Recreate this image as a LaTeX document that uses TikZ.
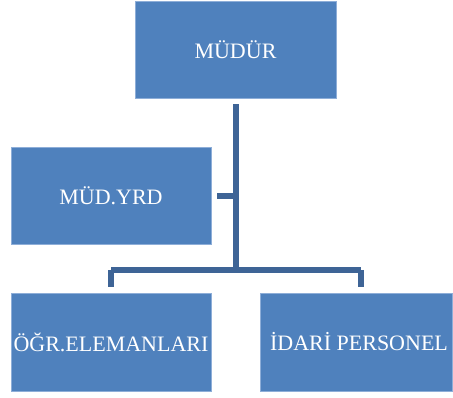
\documentclass[tikz,border=0pt]{standalone}
\usepackage{fontspec}
\setmainfont{Liberation Serif}
\usetikzlibrary{calc}
\definecolor{boxblue}{HTML}{4F81BD}
\definecolor{boxedge}{HTML}{8EAED8}
\definecolor{linkblue}{HTML}{3E6496}
\tikzset{
  unit/.style={draw=boxedge, line width=0.8pt, fill=boxblue, text=white,
    font=\fontsize{22}{26}\selectfont, inner sep=0pt},
  link/.style={draw=linkblue, line width=5.5pt, line join=round}
}
\begin{document}
\begin{tikzpicture}[x=1pt,y=-1pt]
    \useasboundingbox (0,0) rectangle (453,398);

    \node [unit, minimum width=201pt, minimum height=97pt] (mudur) at (235.5,49.5) {MÜDÜR};
    \node [unit, minimum width=200pt, minimum height=97pt] (yrd) at (111,195.5) {MÜD.YRD};
    \node [unit, minimum width=200pt, minimum height=98pt] (ogr) at (111,342) {ÖĞR.ELEMANLARI};
    \node [unit, minimum width=192pt, minimum height=98pt] (idari) at (356,342) {\hspace{6pt}İDARİ PERSONEL};

    \coordinate (C0) at ($(mudur.south)+(0.5,6)$);
    \coordinate (C1) at (236,270);
    \coordinate (C2) at (111,270);
    \coordinate (C3) at (361,270);
    \coordinate (C4) at (236,196);

     \draw [link] (C0) -- (C1);
     \draw [link] (C2) -- (C3);
     \draw [link] (C2) -- ($(ogr.north)+(0,-6)$);
     \draw [link] (C3) -- ($(idari.north)+(5,-6)$);
     \draw [link] ($(yrd.east)+(6,0.5)$) -- (C4);
  \end{tikzpicture}
\end{document}
